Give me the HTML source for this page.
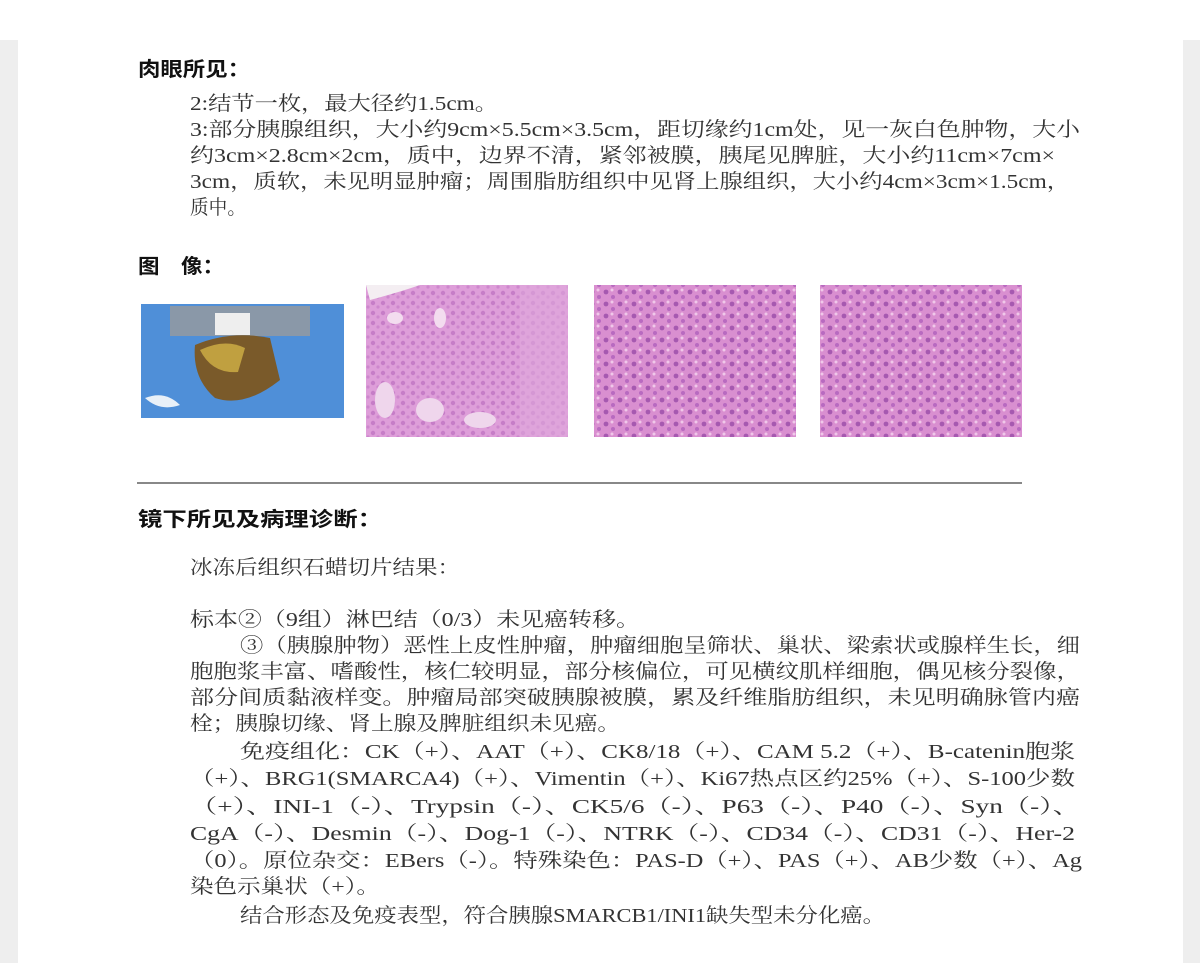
<!DOCTYPE html>
<html><head><meta charset="utf-8"><style>
html,body{margin:0;padding:0;background:#fff;width:1200px;height:963px;overflow:hidden}
svg{display:block}
text{font-family:"Liberation Serif","Noto Serif CJK SC",serif;fill:#333;font-size:20px}
.h{font-family:"Liberation Sans","Noto Sans CJK SC",sans-serif;font-weight:bold;fill:#111;font-size:20px}
</style></head><body>
<svg width="1200" height="963" viewBox="0 0 1200 963">
<defs>
<pattern id="cells" width="14" height="12" patternUnits="userSpaceOnUse">
<rect width="14" height="12" fill="#d98fd0"/>
<circle cx="4" cy="4" r="2.4" fill="#a659b0"/><circle cx="11" cy="9" r="2" fill="#b86ac0"/>
<circle cx="10" cy="2" r="1.5" fill="#f0c8ea"/>
</pattern>
<pattern id="cells2" width="10" height="10" patternUnits="userSpaceOnUse">
<rect width="10" height="10" fill="#e4b0e0"/>
<circle cx="3" cy="3" r="2.2" fill="#b066b8"/><circle cx="8" cy="7" r="1.6" fill="#c07ac6"/>
</pattern>
</defs>
<rect x="0" y="40" width="18" height="923" fill="#eeeeee"/>
<rect x="1183" y="40" width="17" height="923" fill="#eeeeee"/>

<text class="h" x="138" y="76" textLength="112" lengthAdjust="spacingAndGlyphs">肉眼所见：</text>
<g>
<text x="190" y="110" textLength="308" lengthAdjust="spacingAndGlyphs">2:结节一枚，最大径约1.5cm。</text>
<text x="190" y="136" textLength="890" lengthAdjust="spacingAndGlyphs">3:部分胰腺组织，大小约9cm×5.5cm×3.5cm，距切缘约1cm处，见一灰白色肿物，大小</text>
<text x="190" y="162" textLength="865" lengthAdjust="spacingAndGlyphs">约3cm×2.8cm×2cm，质中，边界不清，紧邻被膜，胰尾见脾脏，大小约11cm×7cm×</text>
<text x="190" y="188" textLength="880" lengthAdjust="spacingAndGlyphs">3cm，质软，未见明显肿瘤；周围脂肪组织中见肾上腺组织，大小约4cm×3cm×1.5cm，</text>
<text x="190" y="214" textLength="56" lengthAdjust="spacingAndGlyphs">质中。</text>
</g>
<text class="h" x="138" y="273" textLength="86" lengthAdjust="spacingAndGlyphs">图　像：</text>

<g>
<rect x="141" y="304" width="203" height="114" fill="#4f8fd8"/>
<rect x="170" y="306" width="140" height="30" fill="#8a98a8"/>
<rect x="215" y="313" width="35" height="22" fill="#eeeeee"/>
<path d="M195 345 Q230 330 270 338 L280 380 Q245 408 215 398 Q192 378 195 345Z" fill="#7a5a2a"/>
<path d="M200 350 Q225 338 245 348 L238 372 Q212 374 200 350Z" fill="#c0a040"/>
<path d="M145 398 Q165 390 180 405 Q160 412 145 398Z" fill="#e8f0f8"/>
</g>
<g>
<rect x="366" y="285" width="202" height="152" fill="url(#cells2)"/>
<rect x="366" y="285" width="202" height="152" fill="#d890d4" opacity="0.55"/>
<path d="M366 285 L420 285 Q400 292 370 300Z" fill="#f4eef2"/>
<ellipse cx="395" cy="318" rx="8" ry="6" fill="#f3dcef"/>
<ellipse cx="440" cy="318" rx="6" ry="10" fill="#f3dcef"/>
<ellipse cx="430" cy="410" rx="14" ry="12" fill="#efd6ec"/>
<ellipse cx="480" cy="420" rx="16" ry="8" fill="#efd6ec"/>
<ellipse cx="385" cy="400" rx="10" ry="18" fill="#efd6ec"/>
<rect x="520" y="285" width="48" height="152" fill="#e0a8dc" opacity="0.6"/>
</g>
<rect x="594" y="285" width="202" height="152" fill="url(#cells)"/>
<rect x="820" y="285" width="202" height="152" fill="url(#cells)"/>

<line x1="137" y1="483" x2="1022" y2="483" stroke="#888" stroke-width="2"/>

<text class="h" x="138" y="526" textLength="244" lengthAdjust="spacingAndGlyphs">镜下所见及病理诊断：</text>
<g>
<text x="190" y="574" textLength="270" lengthAdjust="spacingAndGlyphs">冰冻后组织石蜡切片结果：</text>
<text x="190" y="626" textLength="450" lengthAdjust="spacingAndGlyphs">标本②（9组）淋巴结（0/3）未见癌转移。</text>
<text x="240" y="652" textLength="840" lengthAdjust="spacingAndGlyphs">③（胰腺肿物）恶性上皮性肿瘤，肿瘤细胞呈筛状、巢状、梁索状或腺样生长，细</text>
<text x="190" y="678" textLength="890" lengthAdjust="spacingAndGlyphs">胞胞浆丰富、嗜酸性，核仁较明显，部分核偏位，可见横纹肌样细胞，偶见核分裂像，</text>
<text x="190" y="704" textLength="890" lengthAdjust="spacingAndGlyphs">部分间质黏液样变。肿瘤局部突破胰腺被膜，累及纤维脂肪组织，未见明确脉管内癌</text>
<text x="190" y="730" textLength="430" lengthAdjust="spacingAndGlyphs">栓；胰腺切缘、肾上腺及脾脏组织未见癌。</text>
<text x="240" y="758" textLength="835" lengthAdjust="spacingAndGlyphs">免疫组化：CK（+）、AAT（+）、CK8/18（+）、CAM 5.2（+）、B-catenin胞浆</text>
<text x="190" y="785" textLength="885" lengthAdjust="spacingAndGlyphs">（+）、BRG1(SMARCA4)（+）、Vimentin（+）、Ki67热点区约25%（+）、S-100少数</text>
<text x="190" y="813" textLength="890" lengthAdjust="spacingAndGlyphs">（+）、INI-1（-）、Trypsin（-）、CK5/6（-）、P63（-）、P40（-）、Syn（-）、</text>
<text x="190" y="840" textLength="885" lengthAdjust="spacingAndGlyphs">CgA（-）、Desmin（-）、Dog-1（-）、NTRK（-）、CD34（-）、CD31（-）、Her-2</text>
<text x="190" y="867" textLength="892" lengthAdjust="spacingAndGlyphs">（0）。原位杂交：EBers（-）。特殊染色：PAS-D（+）、PAS（+）、AB少数（+）、Ag</text>
<text x="190" y="893" textLength="190" lengthAdjust="spacingAndGlyphs">染色示巢状（+）。</text>
<text x="240" y="922" textLength="645" lengthAdjust="spacingAndGlyphs">结合形态及免疫表型，符合胰腺SMARCB1/INI1缺失型未分化癌。</text>
</g>
</svg>
</body></html>
